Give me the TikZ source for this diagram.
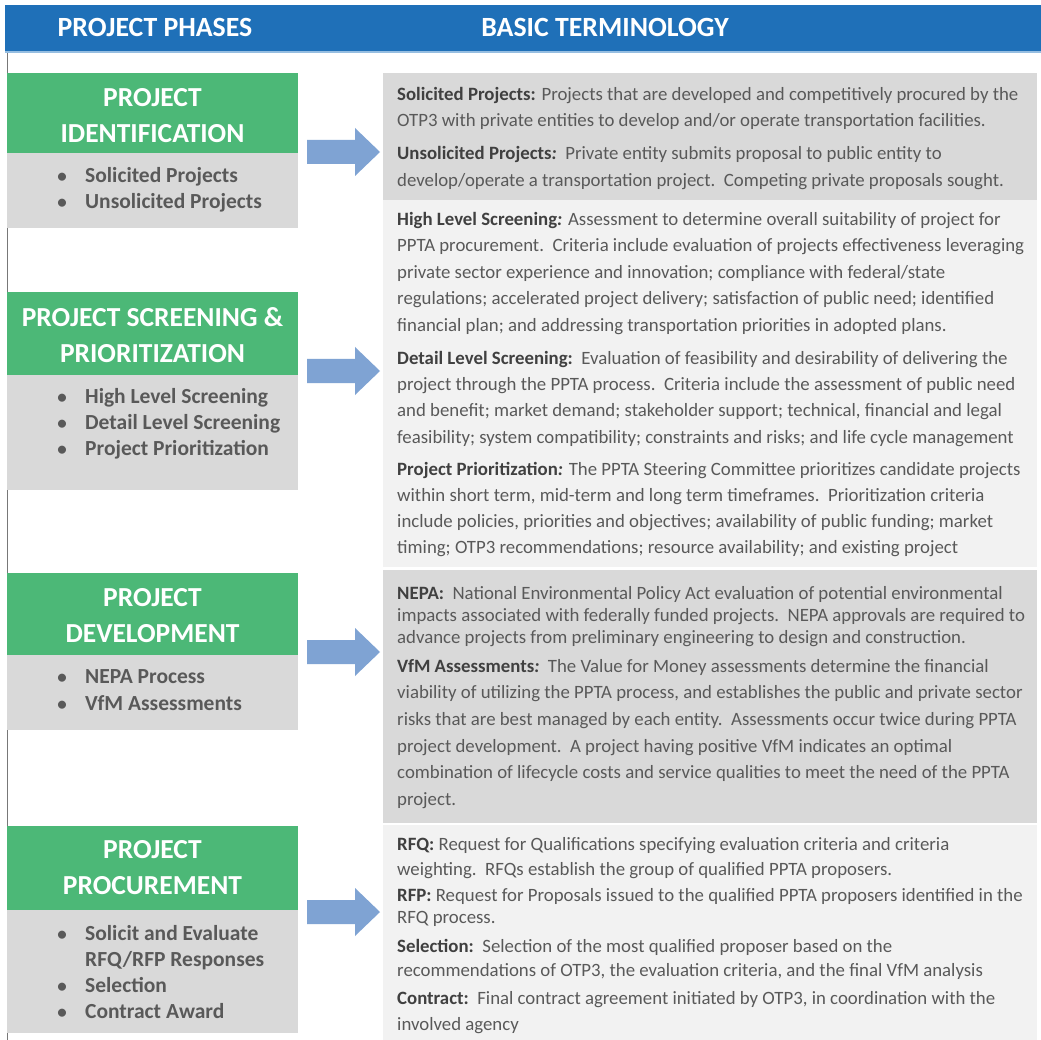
\documentclass[tikz,border=0pt]{standalone}
\usepackage{fontspec}
\setmainfont{Carlito}
\definecolor{hdrblue}{RGB}{31,112,184}
\definecolor{hdrshade}{RGB}{150,190,225}
\definecolor{phasegreen}{RGB}{76,184,119}
\definecolor{phasegray}{RGB}{217,217,217}
\definecolor{termdark}{RGB}{217,217,217}
\definecolor{termlight}{RGB}{242,242,242}
\definecolor{arrowblue}{RGB}{127,163,211}
\definecolor{bodytext}{RGB}{89,89,89}
\definecolor{headtext}{RGB}{64,64,64}
\definecolor{railgray}{RGB}{120,120,120}
\newcommand{\termhead}[1]{{\bfseries\color{headtext}#1}}
\newcommand{\bul}{\makebox[14pt][c]{\fontsize{19}{19}\selectfont\textbullet}\hspace{16pt}}
\newcommand{\bulcont}{\hspace*{30pt}}
\begin{document}
\begin{tikzpicture}[x=1pt,y=-1pt,
  hdrtext/.style={text=white, font=\fontsize{27.8}{30}\selectfont\bfseries, inner sep=0},
  greenbox/.style={fill=phasegreen, inner sep=0, minimum width=291pt, anchor=north west},
  phasetitle/.style={text=white, font=\fontsize{27.5}{36}\selectfont\bfseries,
    align=center, inner sep=0},
  graybox/.style={fill=phasegray, inner sep=0, minimum width=291pt, anchor=north west},
  bullets/.style={text=bodytext, font=\fontsize{21.5}{#1}\selectfont\bfseries,
    align=left, inner sep=0, anchor=north west},
  bullets/.default=26.5,
  panel/.style={inner sep=0, minimum width=654pt, anchor=north west},
  termtext/.style={text=bodytext, font=\fontsize{18.8}{#1}\selectfont,
    align=left, inner sep=0, anchor=north west},
  termtext/.default=26.5,
  blockarrow/.pic={\fill[arrowblue] (0,-12) -- (48,-12) -- (48,-24) -- (73,0)
    -- (48,24) -- (48,12) -- (0,12) -- cycle;}
]
\useasboundingbox (0,0) rectangle (1041,1040);
\fill[white] (0,0) rectangle (1041,1040);

% header bar
\node[fill=hdrblue, inner sep=0, anchor=north west, minimum width=1036pt,
  minimum height=46pt] (hdr) at (5,5) {};
\fill[hdrshade] (hdr.south west) rectangle ([yshift=-2pt]hdr.south east);
\node[hdrtext] (hphases) at (155,27) {PROJECT PHASES};
\node[hdrtext] (hterms) at (605,27) {BASIC TERMINOLOGY};

% left rail
\coordinate (railtop) at (7,53);
\coordinate (railbot) at (7,1040);
\draw[railgray, line width=0.8pt] (railtop) -- (railbot);

% terminology panels
\node[panel, fill=termdark, minimum height=127pt] (pan1) at (383,73) {};
\node[panel, fill=termlight, minimum height=367pt] (pan2) at (383,200) {};
\node[panel, fill=termdark, minimum height=253pt] (pan3) at (383,570) {};
\node[panel, fill=termlight, minimum height=215pt] (pan4) at (383,825) {};

% phase 1
\node[greenbox, minimum height=80pt] (g1) at (7,73) {};
\node[phasetitle] (g1t) at (152.5,116) {PROJECT\\IDENTIFICATION};
\node[graybox, minimum height=75pt] (s1) at (7,153) {};
\node[bullets] (b1) at (55,167) {\bul Solicited Projects\\\bul Unsolicited Projects};

% phase 2
\node[greenbox, minimum height=83pt] (g2) at (7,292) {};
\node[phasetitle] (g2t) at (152.5,335.5) {PROJECT SCREENING \&\\PRIORITIZATION};
\node[graybox, minimum height=115pt] (s2) at (7,375) {};
\node[bullets=26] (b2) at (55,388)
  {\bul High Level Screening\\\bul Detail Level Screening\\\bul Project Prioritization};

% phase 3
\node[greenbox, minimum height=82pt] (g3) at (7,573) {};
\node[phasetitle] (g3t) at (152.5,616) {PROJECT\\DEVELOPMENT};
\node[graybox, minimum height=75pt] (s3) at (7,655) {};
\node[bullets=27] (b3) at (55,669)
  {\bul NEPA Process\\\bul VfM Assessments};

% phase 4
\node[greenbox, minimum height=84pt] (g4) at (7,826) {};
\node[phasetitle] (g4t) at (152.5,868) {PROJECT\\PROCUREMENT};
\node[graybox, minimum height=123pt] (s4) at (7,910) {};
\node[bullets=26] (b4) at (55,925)
  {\bul Solicit and Evaluate\\\bulcont RFQ/RFP Responses\\\bul Selection\\\bul Contract Award};

% arrows
\pic (arr1) at (307,152) {blockarrow};
\pic (arr2) at (307,371) {blockarrow};
\pic (arr3) at (307,652) {blockarrow};
\pic (arr4) at (307,912) {blockarrow};

% panel 1 text
\node[termtext=26.5] (t1a) at (397,87)
  {\termhead{Solicited Projects:} Projects that are developed and competitively procured by the\\
   OTP3 with private entities to develop and/or operate transportation facilities.};
\node[termtext=27] (t1b) at (397,146)
  {\termhead{Unsolicited Projects\textit{:}}\ \ Private entity submits proposal to public entity to\\
   develop/operate a transportation project.\ \ Competing private proposals sought.};

% panel 2 text
\node[termtext=26.5] (t2a) at (397,212)
  {\termhead{High Level Screening\textit{:}} Assessment to determine overall suitability of project for\\
   PPTA procurement.\ \ Criteria include evaluation of projects effectiveness leveraging\\
   private sector experience and innovation; compliance with federal/state\\
   regulations; accelerated project delivery; satisfaction of public need; identified\\
   financial plan; and addressing transportation priorities in adopted plans.};
\node[termtext=26.3] (t2b) at (397,351)
  {\termhead{Detail Level Screening:}\ \ Evaluation of feasibility and desirability of delivering the\\
   project through the PPTA process.\ \ Criteria include the assessment of public need\\
   and benefit; market demand; stakeholder support; technical, financial and legal\\
   feasibility; system compatibility; constraints and risks; and life cycle management};
\node[termtext=26] (t2c) at (397,462)
  {\termhead{Project Prioritization\textit{:}} The PPTA Steering Committee prioritizes candidate projects\\
   within short term, mid-term and long term timeframes.\ \ Prioritization criteria\\
   include policies, priorities and objectives; availability of public funding; market\\
   timing; OTP3 recommendations; resource availability; and existing project};

% panel 3 text
\node[termtext=22] (t3a) at (397,586)
  {\termhead{NEPA:}\ \ National Environmental Policy Act evaluation of potential environmental\\
   impacts associated with federally funded projects.\ \ NEPA approvals are required to\\
   advance projects from preliminary engineering to design and construction.};
\node[termtext=26.6] (t3b) at (397,659)
  {\termhead{VfM Assessments\textit{:}}\ \ The Value for Money assessments determine the financial\\
   viability of utilizing the PPTA process, and establishes the public and private sector\\
   risks that are best managed by each entity.\ \ Assessments occur twice during PPTA\\
   project development.\ \ A project having positive VfM indicates an optimal\\
   combination of lifecycle costs and service qualities to meet the need of the PPTA\\
   project.};

% panel 4 text
\node[termtext=25] (t4a) at (397,837)
  {\termhead{RFQ:} Request for Qualifications specifying evaluation criteria and criteria\\
   weighting.\ \ RFQs establish the group of qualified PPTA proposers.};
\node[termtext=22] (t4b) at (397,888)
  {\termhead{RFP:} Request for Proposals issued to the qualified PPTA proposers identified in the\\
   RFQ process.};
\node[termtext=24] (t4c) at (397,939)
  {\termhead{Selection:}\ \ Selection of the most qualified proposer based on the\\
   recommendations of OTP3, the evaluation criteria, and the final VfM analysis};
\node[termtext=26] (t4d) at (397,991)
  {\termhead{Contract:}\ \ Final contract agreement initiated by OTP3, in coordination with the\\
   involved agency};
\end{tikzpicture}
\end{document}
